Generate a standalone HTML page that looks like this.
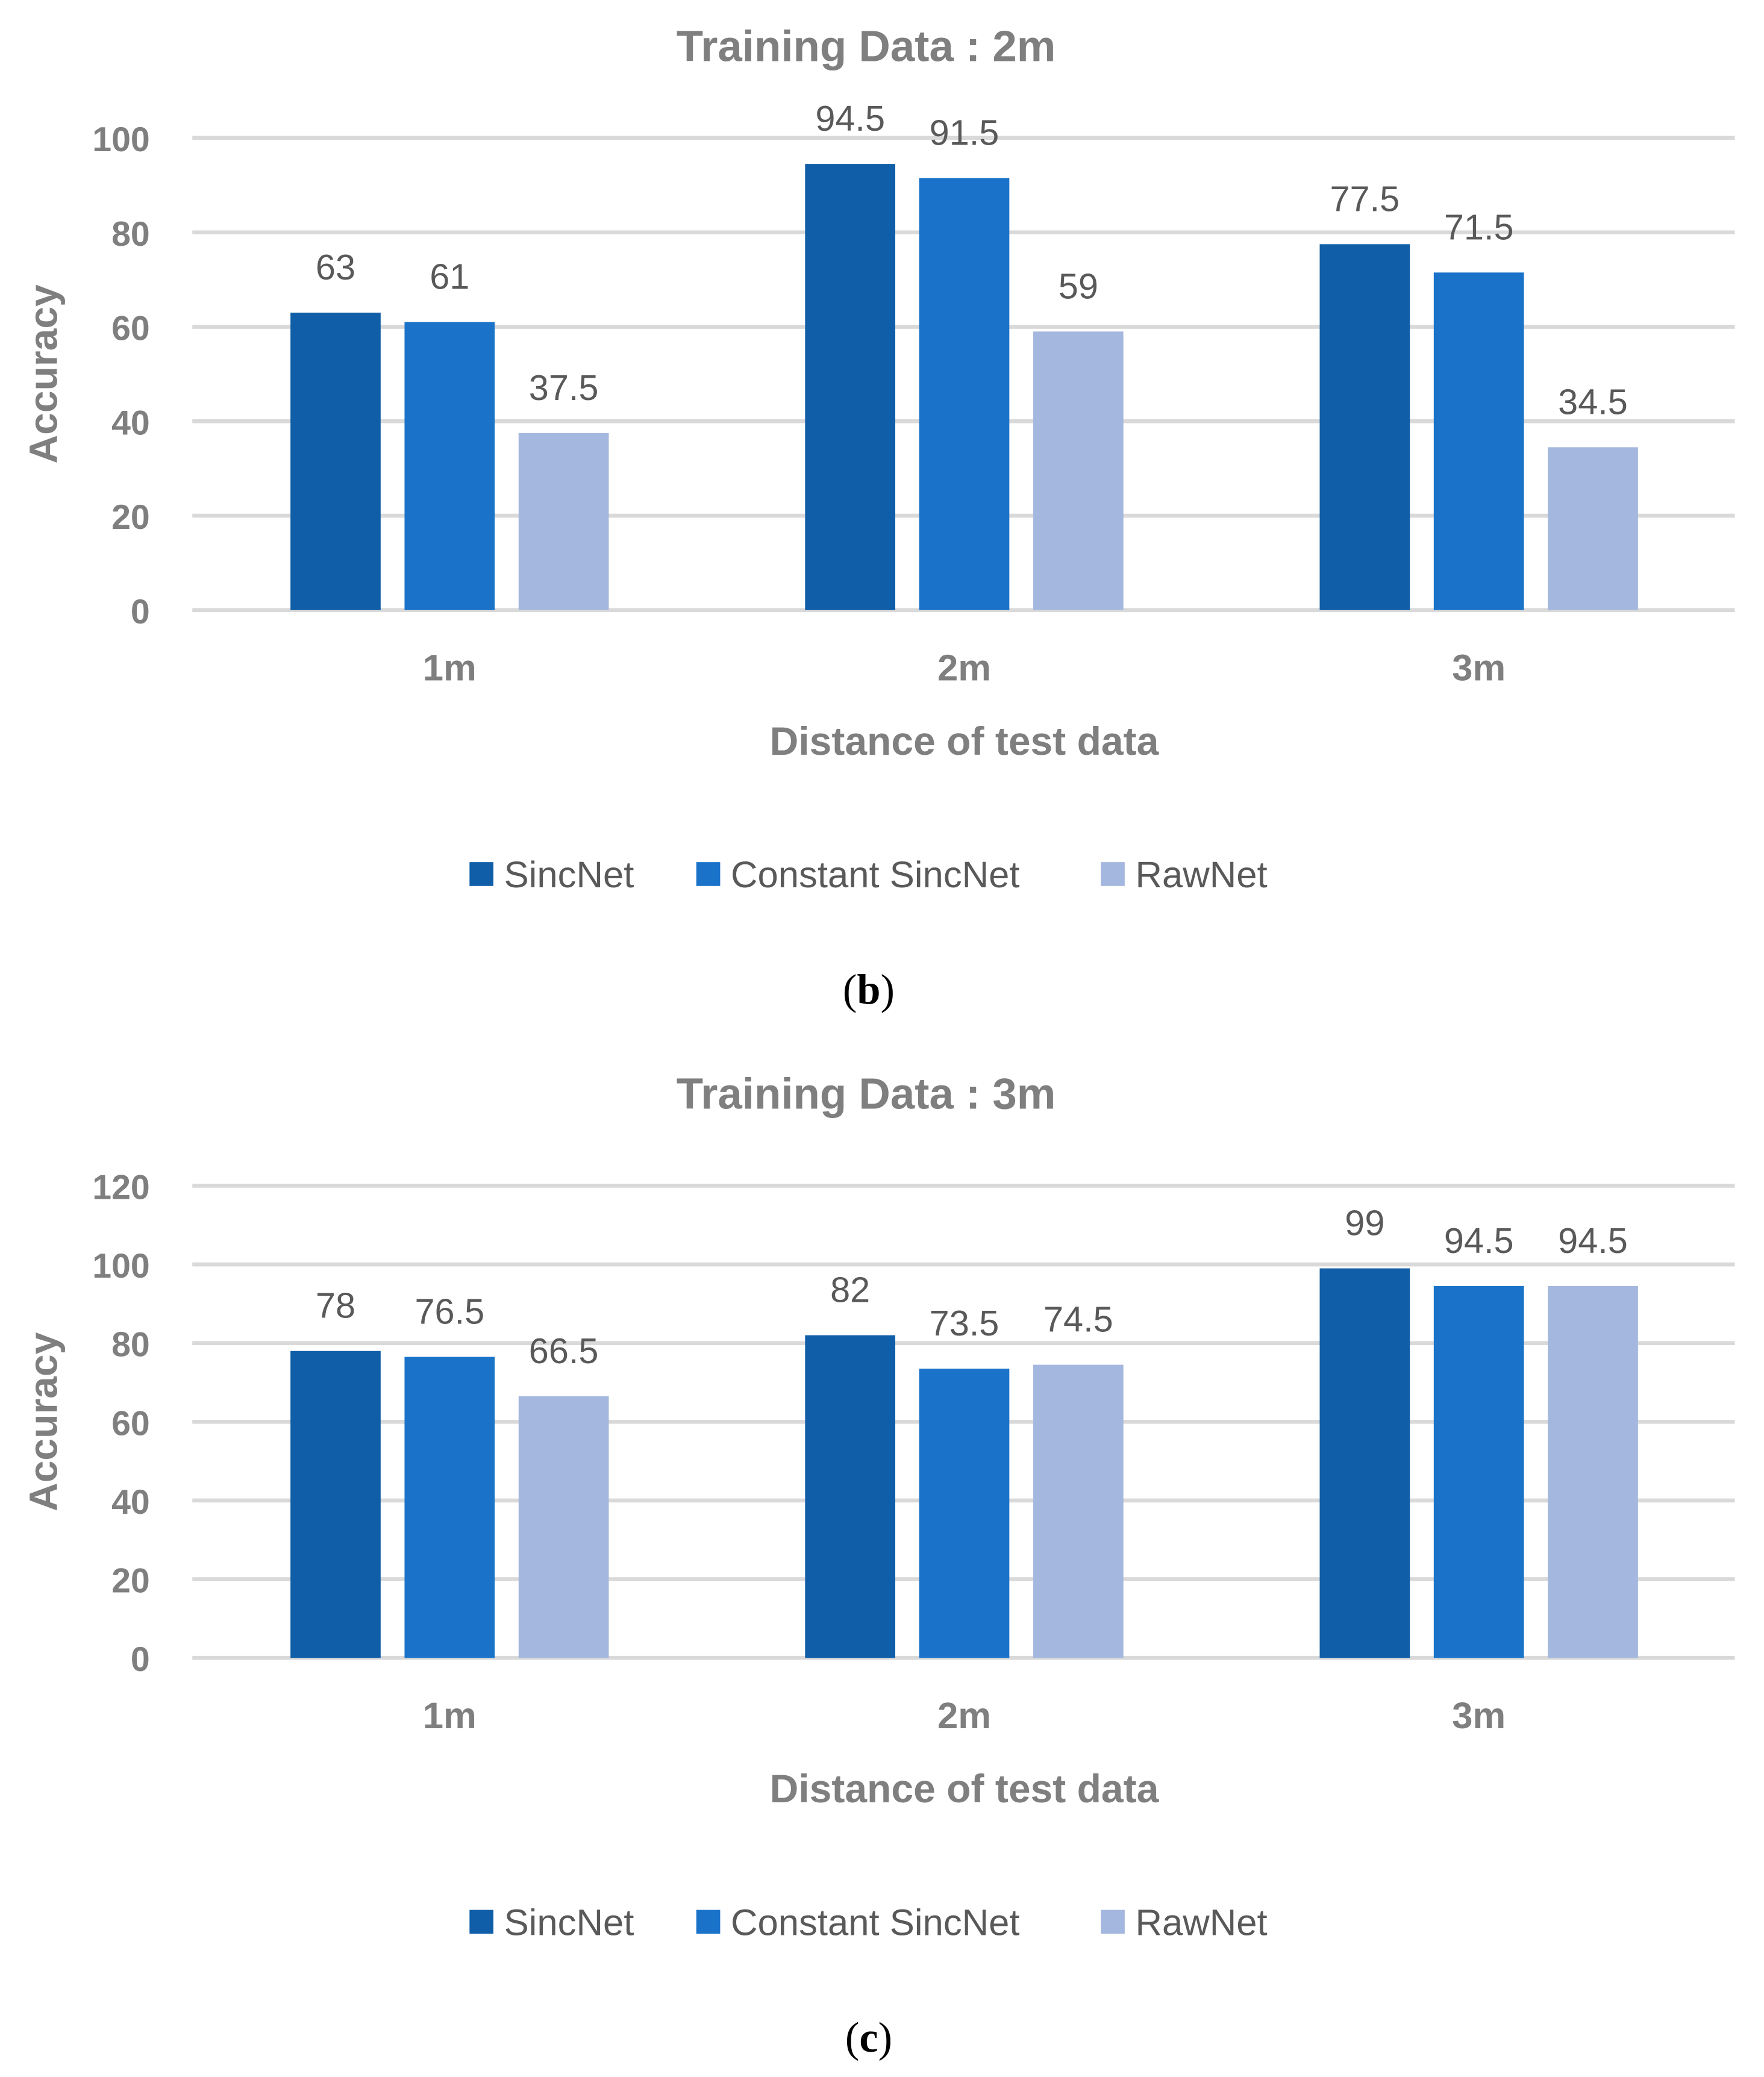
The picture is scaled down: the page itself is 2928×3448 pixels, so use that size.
<!DOCTYPE html>
<html><head><meta charset="utf-8">
<style>
html,body{margin:0;padding:0;background:#fff;}
svg{display:block;}
text{font-family:"Liberation Sans",sans-serif;}
</style></head>
<body>
<svg id="fig" width="2928" height="3448" viewBox="0 0 1330 1566" preserveAspectRatio="none" xmlns="http://www.w3.org/2000/svg"></svg>
<script>
const categories = ["1m", "2m", "3m"];
const seriesNames = ["SincNet", "Constant SincNet", "RawNet"];
const seriesColors = ["#105ea8", "#1a73c9", "#a4b7de"];
const chartBValuesSincNet = [63, 94.5, 77.5];
const chartBValuesConstant = [61, 91.5, 71.5];
const chartBValuesRawNet = [37.5, 59, 34.5];
const chartBTicks = [0, 20, 40, 60, 80, 100];
const chartCValuesSincNet = [78, 82, 99];
const chartCValuesConstant = [76.5, 73.5, 94.5];
const chartCValuesRawNet = [66.5, 74.5, 94.5];
const chartCTicks = [0, 20, 40, 60, 80, 100, 120];

const NS = "http://www.w3.org/2000/svg";
const svg = document.getElementById("fig");
function mk(tag, attrs, parent, txt) {
  const e = document.createElementNS(NS, tag);
  for (const k in attrs) e.setAttribute(k, attrs[k]);
  if (txt !== undefined) e.textContent = txt;
  parent.appendChild(e);
  return e;
}

function drawChart(cfg) {
  const g = mk("g", {}, svg);
  
  
  const maxT = cfg.ticks[cfg.ticks.length - 1];
  const y = v => cfg.y0 - (v / maxT) * (cfg.y0 - cfg.yTop);
  const groupW = 388, firstGroup = 339;
  const xc = i => firstGroup + i * groupW;
  const barW = 68, step = 86;

  const t = mk("text", {x: 653, y: cfg.y0 - 414, "text-anchor": "middle", "font-size": 33, "font-weight": "bold", fill: "#7f7f7f"}, g, cfg.title);
  
  

  cfg.ticks.forEach(tv => {
    const ln = mk("line", {x1: 145, x2: 1308, y1: y(tv), y2: y(tv), stroke: "#d9d9d9", "stroke-width": 3}, g);
    
    
    const tl = mk("text", {x: 113, y: y(tv) + 10, "text-anchor": "end", "font-size": 26, "font-weight": "bold", fill: "#7f7f7f"}, g, String(tv));
    
    
  });

  const yt = mk("text", {x: 0, y: 0, transform: "translate(43," + (cfg.y0 - 178) + ") rotate(-90)", "text-anchor": "middle", "font-size": 30, "font-weight": "bold", fill: "#7f7f7f"}, g, "Accuracy");
  
  

  cfg.series.forEach((vals, s) => {
    vals.forEach((v, i) => {
      const bx = xc(i) - 120 + s * step;
      const r = mk("rect", {x: bx, y: y(v), width: barW, height: cfg.y0 - y(v), fill: seriesColors[s]}, g);
      
      
      const lb = mk("text", {x: bx + barW / 2, y: y(v) - 25, "text-anchor": "middle", "font-size": 27, fill: "#595959"}, g, String(v));
      
      
    });
  });

  categories.forEach((c, i) => {
    const cl = mk("text", {x: xc(i), y: cfg.y0 + 53, "text-anchor": "middle", "font-size": 28, "font-weight": "bold", fill: "#7f7f7f"}, g, c);
    
    
  });

  const xt = mk("text", {x: 727, y: cfg.y0 + 109, "text-anchor": "middle", "font-size": 30, "font-weight": "bold", fill: "#7f7f7f"}, g, "Distance of test data");
  
  

  const legX = [354, 525, 830];
  seriesNames.forEach((n, s) => {
    const ly = cfg.y0 + 199;
    const sq = mk("rect", {x: legX[s], y: ly - 9, width: 18, height: 18, fill: seriesColors[s]}, g);
    
    
    const lt = mk("text", {x: legX[s] + 26, y: ly + 10, "font-size": 28, fill: "#595959"}, g, n);
    
    
  });

  const cap = mk("text", {x: 655, y: cfg.y0 + 297, "text-anchor": "middle", "font-size": 32, fill: "#000", style: "font-family:'Liberation Serif',serif"}, g, "");
  
  
  mk("tspan", {}, cap, "(");
  mk("tspan", {"font-weight": "bold"}, cap, cfg.letter);
  mk("tspan", {}, cap, ")");
}

drawChart({name: "chart-b", title: "Training Data : 2m", y0: 460, yTop: 104, ticks: chartBTicks,
  series: [chartBValuesSincNet, chartBValuesConstant, chartBValuesRawNet], letter: "b"});
drawChart({name: "chart-c", title: "Training Data : 3m", y0: 1250, yTop: 894, ticks: chartCTicks,
  series: [chartCValuesSincNet, chartCValuesConstant, chartCValuesRawNet], letter: "c"});
</script>
</body></html>
